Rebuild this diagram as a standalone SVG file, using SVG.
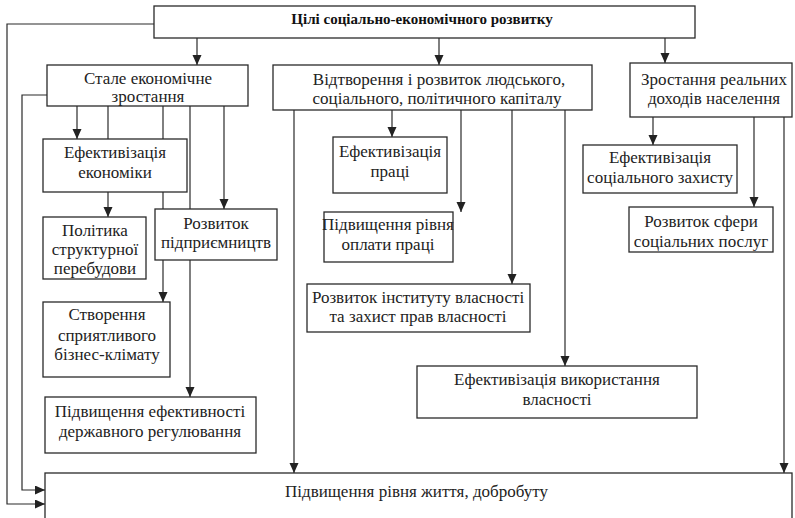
<svg xmlns="http://www.w3.org/2000/svg" width="795" height="518" viewBox="0 0 795 518" font-family="'Liberation Serif', 'DejaVu Serif', serif">
<style>
.box{fill:#fff;stroke:#2a2a2a;stroke-width:1.3}
text{font-family:'Liberation Serif','DejaVu Serif',serif}
.t{font-size:17px;fill:#222;text-anchor:middle}
.tb{font-size:15px;font-weight:bold;fill:#111;text-anchor:middle}
.c{fill:none;stroke:#2a2a2a;stroke-width:1.2}
.a{marker-end:url(#ah)}
</style>
<defs>
<marker id="ah" markerUnits="userSpaceOnUse" markerWidth="10" markerHeight="10" refX="10" refY="4.5" orient="auto">
<path d="M0,0 L10,4.5 L0,9 z" fill="#222"/>
</marker>
</defs>
<rect width="795" height="518" fill="#fff"/>
<g id="connectors">
<line class="c a" x1="197" y1="38" x2="197" y2="65"/>
<line class="c a" x1="439" y1="38" x2="439" y2="65"/>
<line class="c a" x1="665" y1="38" x2="665" y2="63"/>
<path class="c a" d="M154,24 H7 V504 H45"/>
<path class="c a" d="M47,95 H22 V490 H45"/>
<line class="c a" x1="77" y1="106" x2="77" y2="139"/>
<line class="c a" x1="108" y1="106" x2="108" y2="217"/>
<line class="c a" x1="163" y1="106" x2="163" y2="302"/>
<line class="c a" x1="190" y1="106" x2="190" y2="397"/>
<line class="c a" x1="224" y1="106" x2="224" y2="209"/>
<line class="c a" x1="294" y1="110" x2="294" y2="473"/>
<line class="c a" x1="392" y1="110" x2="392" y2="137"/>
<line class="c a" x1="461" y1="110" x2="461" y2="212"/>
<line class="c a" x1="512" y1="110" x2="512" y2="284"/>
<line class="c a" x1="565" y1="110" x2="565" y2="366"/>
<line class="c a" x1="653" y1="117" x2="653" y2="145"/>
<line class="c a" x1="754" y1="117" x2="754" y2="207"/>
<line class="c a" x1="784" y1="117" x2="784" y2="473"/>
</g>
<g id="n-goals">
<rect class="box" x="154" y="6" width="541" height="32"/>
<text class="tb" x="422" y="24">Цілі соціально-економічного розвитку</text>
</g>
<g id="n-stale">
<rect class="box" x="47" y="65" width="201" height="41"/>
<text class="t" x="148" y="84">Стале економічне</text>
<text class="t" x="148" y="102">зростання</text>
</g>
<g id="n-vidtv">
<rect class="box" x="273" y="65" width="319" height="45"/>
<text class="t" x="439" y="85">Відтворення і розвиток людського,</text>
<text class="t" x="437" y="104">соціального, політичного капіталу</text>
</g>
<g id="n-zrost">
<rect class="box" x="630" y="63" width="162" height="54"/>
<text class="t" x="714" y="85">Зростання реальних</text>
<text class="t" x="714" y="104">доходів населення</text>
</g>
<g id="n-efek">
<rect class="box" x="43" y="139" width="144" height="53"/>
<text class="t" x="115" y="158">Ефективізація</text>
<text class="t" x="115" y="178">економіки</text>
</g>
<g id="n-polit">
<rect class="box" x="43" y="217" width="103" height="62"/>
<text class="t" x="95" y="236">Політика</text>
<text class="t" x="95" y="255">структурної</text>
<text class="t" x="95" y="274">перебудови</text>
</g>
<g id="n-rozv">
<rect class="box" x="155" y="209" width="122" height="51"/>
<text class="t" x="216" y="229">Розвиток</text>
<text class="t" x="216" y="248">підприємництв</text>
</g>
<g id="n-stvor">
<rect class="box" x="43" y="302" width="127" height="75"/>
<text class="t" x="107" y="320">Створення</text>
<text class="t" x="107" y="341">сприятливого</text>
<text class="t" x="107" y="360">бізнес-клімату</text>
</g>
<g id="n-derzh">
<rect class="box" x="45" y="397" width="211" height="56"/>
<text class="t" x="150" y="417">Підвищення ефективності</text>
<text class="t" x="150" y="437">державного регулювання</text>
</g>
<g id="n-praci">
<rect class="box" x="333" y="137" width="114" height="56"/>
<text class="t" x="390" y="157">Ефективізація</text>
<text class="t" x="390" y="177">праці</text>
</g>
<g id="n-oplata">
<rect class="box" x="324" y="212" width="129" height="50"/>
<text class="t" x="388" y="230">Підвищення рівня</text>
<text class="t" x="388" y="250">оплати праці</text>
</g>
<g id="n-instyt">
<rect class="box" x="307" y="284" width="223" height="48"/>
<text class="t" x="418" y="303">Розвиток інституту власності</text>
<text class="t" x="418" y="322">та захист прав власності</text>
</g>
<g id="n-vykor">
<rect class="box" x="417" y="366" width="280" height="52"/>
<text class="t" x="557" y="385">Ефективізація використання</text>
<text class="t" x="557" y="405">власності</text>
</g>
<g id="n-soczah">
<rect class="box" x="583" y="145" width="154" height="48"/>
<text class="t" x="660" y="163">Ефективізація</text>
<text class="t" x="660" y="183">соціального захисту</text>
</g>
<g id="n-posl">
<rect class="box" x="629" y="207" width="144" height="45"/>
<text class="t" x="701" y="227">Розвиток сфери</text>
<text class="t" x="701" y="247">соціальних послуг</text>
</g>
<g id="n-zhyttia">
<rect class="box" x="45" y="473" width="747" height="60"/>
<text class="t" x="285" y="497" style="text-anchor:start">Підвищення рівня життя, добробуту</text>
</g>
</svg>
